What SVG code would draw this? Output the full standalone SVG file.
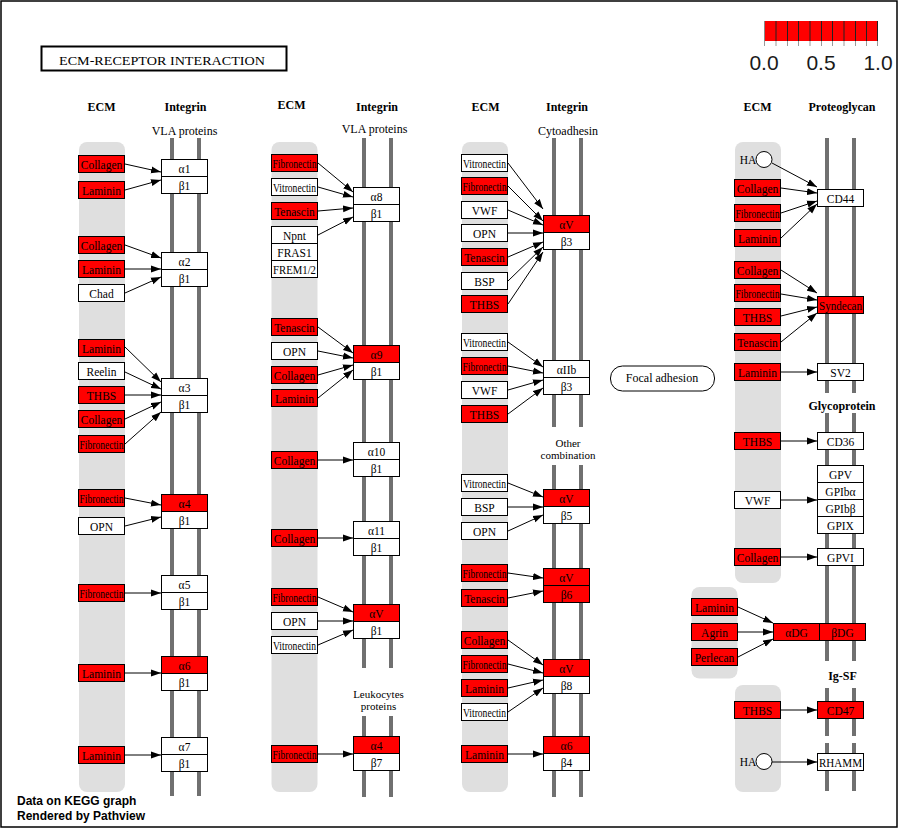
<svg xmlns="http://www.w3.org/2000/svg" width="900" height="829" viewBox="0 0 900 829">
<style>
.bg{fill:#dfdfdf}
.bar{stroke:#707070;stroke-width:4}
rect.r{fill:#ff0000;stroke:#000;stroke-width:1}
rect.w{fill:#fff;stroke:#000;stroke-width:1}
text{font-family:"Liberation Serif","Times New Roman",serif;fill:#000}
.t{font-size:11.5px;text-anchor:middle}
.h{font-size:12px;font-weight:bold;text-anchor:middle}
.s{font-size:12px;text-anchor:middle}
.s2{font-size:11px;text-anchor:middle}
#edges line{stroke:#000;stroke-width:1;marker-end:url(#a)}
.foot{font-family:"Liberation Sans",Arial,sans-serif;font-weight:bold;font-size:12px}
.leg{font-family:"Liberation Sans",Arial,sans-serif;font-size:21px;text-anchor:middle;fill:#1a1a1a}
</style>
<defs>
<marker id="a" markerWidth="10" markerHeight="8" refX="10" refY="4" orient="auto" markerUnits="userSpaceOnUse"><path d="M0,0.5 L10,4 L0,7.5 Z" fill="#000"/></marker>
</defs>
<rect x="0" y="0" width="900" height="829" fill="#fff"/>
<rect x="1" y="1" width="896" height="826" fill="none" stroke="#000" stroke-width="1.5"/>

<!-- title -->
<g id="title">
<rect x="41.5" y="46.5" width="245" height="24" fill="#fff" stroke="#000" stroke-width="2"/>
<text x="59" y="65" font-size="13" textLength="206" lengthAdjust="spacingAndGlyphs">ECM-RECEPTOR  INTERACTION</text>
</g>

<!-- legend -->
<g id="legend">
<rect x="764" y="21" width="114" height="20" fill="#ff0000"/>
<g stroke="#222" stroke-width="1">
<line x1="764.5" y1="21" x2="764.5" y2="41" stroke="#888"/><line x1="776" y1="21" x2="776" y2="41"/><line x1="787.5" y1="21" x2="787.5" y2="41"/><line x1="798.5" y1="21" x2="798.5" y2="41"/><line x1="810" y1="21" x2="810" y2="41"/><line x1="821.5" y1="21" x2="821.5" y2="41"/><line x1="832.5" y1="21" x2="832.5" y2="41"/><line x1="844" y1="21" x2="844" y2="41"/><line x1="855.5" y1="21" x2="855.5" y2="41"/><line x1="866.5" y1="21" x2="866.5" y2="41"/><line x1="877.5" y1="21" x2="877.5" y2="41"/>
</g>
<g stroke="#999" stroke-width="1">
<line x1="764.5" y1="41" x2="764.5" y2="46"/><line x1="776" y1="41" x2="776" y2="46"/><line x1="787.5" y1="41" x2="787.5" y2="46"/><line x1="798.5" y1="41" x2="798.5" y2="46"/><line x1="810" y1="41" x2="810" y2="46"/><line x1="821.5" y1="41" x2="821.5" y2="46"/><line x1="832.5" y1="41" x2="832.5" y2="46"/><line x1="844" y1="41" x2="844" y2="46"/><line x1="855.5" y1="41" x2="855.5" y2="46"/><line x1="866.5" y1="41" x2="866.5" y2="46"/><line x1="877.5" y1="41" x2="877.5" y2="46"/>
</g>
<text class="leg" x="764" y="70">0.0</text>
<text class="leg" x="821" y="70">0.5</text>
<text class="leg" x="878" y="70">1.0</text>
</g>

<!-- headers -->
<g id="headers">
<text class="h" x="101.5" y="111">ECM</text>
<text class="h" x="185.5" y="111">Integrin</text>
<text class="s" x="184.5" y="135">VLA proteins</text>
<text class="h" x="291.5" y="109">ECM</text>
<text class="h" x="377" y="111">Integrin</text>
<text class="s" x="374.5" y="133">VLA proteins</text>
<text class="h" x="485.5" y="110.5">ECM</text>
<text class="h" x="567" y="111">Integrin</text>
<text class="s" x="568" y="135">Cytoadhesin</text>
<text class="s2" x="568" y="447">Other</text>
<text class="s2" x="568" y="459">combination</text>
<text class="s2" x="378.5" y="698">Leukocytes</text>
<text class="s2" x="378.5" y="710">proteins</text>
<text class="h" x="757.5" y="111">ECM</text>
<text class="h" x="842" y="111">Proteoglycan</text>
<text class="h" x="842" y="410">Glycoprotein</text>
<text class="h" x="842.5" y="680">Ig-SF</text>
</g>

<!-- ECM backgrounds -->
<g id="ecm-bg">
<rect class="bg" x="79" y="142" width="46" height="650" rx="8"/>
<rect class="bg" x="271.5" y="142" width="46" height="650" rx="8"/>
<rect class="bg" x="462" y="142" width="46" height="650" rx="8"/>
<rect class="bg" x="735" y="142" width="46" height="441" rx="8"/>
<rect class="bg" x="691.5" y="587" width="46" height="91.5" rx="8"/>
<rect class="bg" x="735" y="685" width="46" height="107" rx="8"/>
</g>

<!-- membrane bars -->
<g id="bars" class="bar">
<line x1="172" y1="138" x2="172" y2="796"/><line x1="199" y1="138" x2="199" y2="796"/>
<line x1="364" y1="138" x2="364" y2="668"/><line x1="391" y1="138" x2="391" y2="668"/>
<line x1="364" y1="716" x2="364" y2="797"/><line x1="391" y1="716" x2="391" y2="797"/>
<line x1="554" y1="138" x2="554" y2="427"/><line x1="581" y1="138" x2="581" y2="427"/>
<line x1="554" y1="465" x2="554" y2="797"/><line x1="581" y1="465" x2="581" y2="797"/>
<line x1="827" y1="138" x2="827" y2="393"/><line x1="854" y1="138" x2="854" y2="393"/>
<line x1="827" y1="413" x2="827" y2="661"/><line x1="854" y1="413" x2="854" y2="661"/>
<line x1="827" y1="688" x2="827" y2="736"/><line x1="854" y1="688" x2="854" y2="736"/>
<line x1="827" y1="743" x2="827" y2="791"/><line x1="854" y1="743" x2="854" y2="791"/>
</g>

<!-- focal adhesion -->
<g id="focal-adhesion">
<rect x="610.5" y="366" width="104" height="25" rx="12" fill="#fff" stroke="#000"/>
<text class="s" x="662" y="382">Focal adhesion</text>
</g>

<!-- connectors -->
<g id="edges">
<line x1="125" y1="164" x2="161" y2="172"/>
<line x1="125" y1="190" x2="161" y2="180"/>
<line x1="125" y1="245" x2="161" y2="258"/>
<line x1="125" y1="269" x2="161" y2="269"/>
<line x1="125" y1="293" x2="161" y2="277"/>
<line x1="125" y1="347" x2="161" y2="382"/>
<line x1="125" y1="372" x2="161" y2="389"/>
<line x1="125" y1="395" x2="161" y2="395"/>
<line x1="125" y1="419" x2="161" y2="402"/>
<line x1="125" y1="444" x2="161" y2="412"/>
<line x1="125" y1="498" x2="161" y2="505"/>
<line x1="125" y1="526" x2="161" y2="517"/>
<line x1="125" y1="593" x2="161" y2="593"/>
<line x1="125" y1="673" x2="161" y2="673"/>
<line x1="125" y1="755" x2="161" y2="755"/>

<line x1="318" y1="163" x2="353" y2="192"/>
<line x1="318" y1="187" x2="353" y2="197"/>
<line x1="318" y1="211" x2="353" y2="208"/>
<line x1="318" y1="235" x2="353" y2="217"/>
<line x1="318" y1="327" x2="353" y2="353"/>
<line x1="318" y1="351" x2="353" y2="358"/>
<line x1="318" y1="375" x2="353" y2="365"/>
<line x1="318" y1="398" x2="353" y2="370"/>
<line x1="318" y1="460" x2="353" y2="460"/>
<line x1="318" y1="538" x2="353" y2="538"/>
<line x1="318" y1="597" x2="353" y2="612"/>
<line x1="318" y1="621" x2="353" y2="621"/>
<line x1="318" y1="645" x2="353" y2="630"/>
<line x1="318" y1="754" x2="353" y2="754"/>

<line x1="508" y1="163" x2="543" y2="209"/>
<line x1="508" y1="186" x2="543" y2="221"/>
<line x1="508" y1="210" x2="543" y2="225"/>
<line x1="508" y1="233" x2="543" y2="233"/>
<line x1="508" y1="257" x2="543" y2="242"/>
<line x1="508" y1="281" x2="543" y2="247"/>
<line x1="508" y1="304" x2="543" y2="252"/>
<line x1="508" y1="342" x2="543" y2="367"/>
<line x1="508" y1="366" x2="543" y2="373"/>
<line x1="508" y1="390" x2="543" y2="380"/>
<line x1="508" y1="414" x2="543" y2="388"/>
<line x1="508" y1="483" x2="543" y2="497"/>
<line x1="508" y1="507" x2="543" y2="507"/>
<line x1="508" y1="531" x2="543" y2="515"/>
<line x1="508" y1="573" x2="543" y2="578"/>
<line x1="508" y1="598" x2="543" y2="591"/>
<line x1="508" y1="640" x2="543" y2="665"/>
<line x1="508" y1="664" x2="543" y2="673"/>
<line x1="508" y1="688" x2="543" y2="680"/>
<line x1="508" y1="712" x2="543" y2="688"/>
<line x1="508" y1="754" x2="543" y2="754"/>

<line x1="772" y1="163" x2="817" y2="187"/>
<line x1="781" y1="188" x2="817" y2="193"/>
<line x1="781" y1="213" x2="817" y2="201"/>
<line x1="781" y1="238" x2="817" y2="204"/>
<line x1="781" y1="270" x2="817" y2="293"/>
<line x1="781" y1="294" x2="817" y2="300"/>
<line x1="781" y1="316" x2="817" y2="307"/>
<line x1="781" y1="342" x2="817" y2="313"/>
<line x1="781" y1="372" x2="817" y2="372"/>
<line x1="781" y1="441" x2="817" y2="441"/>
<line x1="781" y1="500" x2="817" y2="500"/>
<line x1="781" y1="557" x2="817" y2="557"/>
<line x1="738" y1="607" x2="773" y2="623"/>
<line x1="738" y1="632" x2="773" y2="632"/>
<line x1="738" y1="657" x2="773" y2="639"/>
<line x1="781" y1="710" x2="817" y2="710"/>
<line x1="772" y1="762" x2="817" y2="762"/>
</g>

<!-- column 1 ECM -->
<g id="c1-collagen-1"><rect class="r" x="78.5" y="155.5" width="46" height="17"/><text class="t" x="101.5" y="168.5">Collagen</text></g>
<g id="c1-laminin-1"><rect class="r" x="78.5" y="181.5" width="46" height="17"/><text class="t" x="101.5" y="194.5">Laminin</text></g>
<g id="c1-collagen-2"><rect class="r" x="78.5" y="236.5" width="46" height="17"/><text class="t" x="101.5" y="249.5">Collagen</text></g>
<g id="c1-laminin-2"><rect class="r" x="78.5" y="260.5" width="46" height="17"/><text class="t" x="101.5" y="273.5">Laminin</text></g>
<g id="c1-chad"><rect class="w" x="78.5" y="284.5" width="46" height="17"/><text class="t" x="101.5" y="297.5">Chad</text></g>
<g id="c1-laminin-3"><rect class="r" x="78.5" y="339.5" width="46" height="17"/><text class="t" x="101.5" y="352.5">Laminin</text></g>
<g id="c1-reelin"><rect class="w" x="78.5" y="362.5" width="46" height="17"/><text class="t" x="101.5" y="375.5">Reelin</text></g>
<g id="c1-thbs"><rect class="r" x="78.5" y="386.5" width="46" height="17"/><text class="t" x="101.5" y="399.5">THBS</text></g>
<g id="c1-collagen-3"><rect class="r" x="78.5" y="410.5" width="46" height="17"/><text class="t" x="101.5" y="423.5">Collagen</text></g>
<g id="c1-fibronectin-1"><rect class="r" x="78.5" y="435.5" width="46" height="17"/><text class="t" x="101.5" y="448.5" textLength="44" lengthAdjust="spacingAndGlyphs">Fibronectin</text></g>
<g id="c1-fibronectin-2"><rect class="r" x="78.5" y="489.5" width="46" height="17"/><text class="t" x="101.5" y="502.5" textLength="44" lengthAdjust="spacingAndGlyphs">Fibronectin</text></g>
<g id="c1-opn"><rect class="w" x="78.5" y="517.5" width="46" height="17"/><text class="t" x="101.5" y="530.5">OPN</text></g>
<g id="c1-fibronectin-3"><rect class="r" x="78.5" y="584.5" width="46" height="17"/><text class="t" x="101.5" y="597.5" textLength="44" lengthAdjust="spacingAndGlyphs">Fibronectin</text></g>
<g id="c1-laminin-4"><rect class="r" x="78.5" y="664.5" width="46" height="17"/><text class="t" x="101.5" y="677.5">Laminin</text></g>
<g id="c1-laminin-5"><rect class="r" x="78.5" y="746.5" width="46" height="17"/><text class="t" x="101.5" y="759.5">Laminin</text></g>

<!-- column 1 integrins -->
<g id="a1b1"><rect class="w" x="161.5" y="159.5" width="46" height="17"/><rect class="w" x="161.5" y="176.5" width="46" height="17"/><text class="t" x="184.5" y="172.5">α1</text><text class="t" x="184.5" y="189.5">β1</text></g>
<g id="a2b1"><rect class="w" x="161.5" y="252.5" width="46" height="17"/><rect class="w" x="161.5" y="269.5" width="46" height="17"/><text class="t" x="184.5" y="265.5">α2</text><text class="t" x="184.5" y="282.5">β1</text></g>
<g id="a3b1"><rect class="w" x="161.5" y="378.5" width="46" height="17"/><rect class="w" x="161.5" y="395.5" width="46" height="17"/><text class="t" x="184.5" y="391.5">α3</text><text class="t" x="184.5" y="408.5">β1</text></g>
<g id="a4b1"><rect class="r" x="161.5" y="494.5" width="46" height="17"/><rect class="w" x="161.5" y="511.5" width="46" height="17"/><text class="t" x="184.5" y="507.5">α4</text><text class="t" x="184.5" y="524.5">β1</text></g>
<g id="a5b1"><rect class="w" x="161.5" y="575.5" width="46" height="17"/><rect class="w" x="161.5" y="592.5" width="46" height="17"/><text class="t" x="184.5" y="588.5">α5</text><text class="t" x="184.5" y="605.5">β1</text></g>
<g id="a6b1"><rect class="r" x="161.5" y="656.5" width="46" height="17"/><rect class="w" x="161.5" y="673.5" width="46" height="17"/><text class="t" x="184.5" y="669.5">α6</text><text class="t" x="184.5" y="686.5">β1</text></g>
<g id="a7b1"><rect class="w" x="161.5" y="737.5" width="46" height="17"/><rect class="w" x="161.5" y="754.5" width="46" height="17"/><text class="t" x="184.5" y="750.5">α7</text><text class="t" x="184.5" y="767.5">β1</text></g>

<!-- column 2 ECM -->
<g id="c2-fibronectin-1"><rect class="r" x="271.5" y="154.5" width="46" height="17"/><text class="t" x="294.5" y="167.5" textLength="44" lengthAdjust="spacingAndGlyphs">Fibronectin</text></g>
<g id="c2-vitronectin-1"><rect class="w" x="271.5" y="178.5" width="46" height="17"/><text class="t" x="294.5" y="191.5" textLength="43" lengthAdjust="spacingAndGlyphs">Vitronectin</text></g>
<g id="c2-tenascin-1"><rect class="r" x="271.5" y="202.5" width="46" height="17"/><text class="t" x="294.5" y="215.5">Tenascin</text></g>
<g id="c2-npnt"><rect class="w" x="271.5" y="226.5" width="46" height="17"/><rect class="w" x="271.5" y="243.5" width="46" height="17"/><rect class="w" x="271.5" y="260.5" width="46" height="17"/><text class="t" x="294.5" y="239.5">Npnt</text><text class="t" x="294.5" y="256.5">FRAS1</text><text class="t" x="294.5" y="273.5" textLength="43" lengthAdjust="spacingAndGlyphs">FREM1/2</text></g>
<g id="c2-tenascin-2"><rect class="r" x="271.5" y="318.5" width="46" height="17"/><text class="t" x="294.5" y="331.5">Tenascin</text></g>
<g id="c2-opn-1"><rect class="w" x="271.5" y="342.5" width="46" height="17"/><text class="t" x="294.5" y="355.5">OPN</text></g>
<g id="c2-collagen-1"><rect class="r" x="271.5" y="366.5" width="46" height="17"/><text class="t" x="294.5" y="379.5">Collagen</text></g>
<g id="c2-laminin-1"><rect class="r" x="271.5" y="389.5" width="46" height="17"/><text class="t" x="294.5" y="402.5">Laminin</text></g>
<g id="c2-collagen-2"><rect class="r" x="271.5" y="451.5" width="46" height="17"/><text class="t" x="294.5" y="464.5">Collagen</text></g>
<g id="c2-collagen-3"><rect class="r" x="271.5" y="529.5" width="46" height="17"/><text class="t" x="294.5" y="542.5">Collagen</text></g>
<g id="c2-fibronectin-2"><rect class="r" x="271.5" y="588.5" width="46" height="17"/><text class="t" x="294.5" y="601.5" textLength="44" lengthAdjust="spacingAndGlyphs">Fibronectin</text></g>
<g id="c2-opn-2"><rect class="w" x="271.5" y="612.5" width="46" height="17"/><text class="t" x="294.5" y="625.5">OPN</text></g>
<g id="c2-vitronectin-2"><rect class="w" x="271.5" y="636.5" width="46" height="17"/><text class="t" x="294.5" y="649.5" textLength="43" lengthAdjust="spacingAndGlyphs">Vitronectin</text></g>
<g id="c2-fibronectin-3"><rect class="r" x="271.5" y="745.5" width="46" height="17"/><text class="t" x="294.5" y="758.5" textLength="44" lengthAdjust="spacingAndGlyphs">Fibronectin</text></g>

<!-- column 2 integrins -->
<g id="a8b1"><rect class="w" x="353.5" y="187.5" width="46" height="17"/><rect class="w" x="353.5" y="204.5" width="46" height="17"/><text class="t" x="376.5" y="200.5">α8</text><text class="t" x="376.5" y="217.5">β1</text></g>
<g id="a9b1"><rect class="r" x="353.5" y="345.5" width="46" height="17"/><rect class="w" x="353.5" y="362.5" width="46" height="17"/><text class="t" x="376.5" y="358.5">α9</text><text class="t" x="376.5" y="375.5">β1</text></g>
<g id="a10b1"><rect class="w" x="353.5" y="442.5" width="46" height="17"/><rect class="w" x="353.5" y="459.5" width="46" height="17"/><text class="t" x="376.5" y="455.5">α10</text><text class="t" x="376.5" y="472.5">β1</text></g>
<g id="a11b1"><rect class="w" x="353.5" y="521.5" width="46" height="17"/><rect class="w" x="353.5" y="538.5" width="46" height="17"/><text class="t" x="376.5" y="534.5">α11</text><text class="t" x="376.5" y="551.5">β1</text></g>
<g id="aVb1"><rect class="r" x="353.5" y="604.5" width="46" height="17"/><rect class="w" x="353.5" y="621.5" width="46" height="17"/><text class="t" x="376.5" y="617.5">αV</text><text class="t" x="376.5" y="634.5">β1</text></g>
<g id="a4b7"><rect class="r" x="353.5" y="736.5" width="46" height="17"/><rect class="w" x="353.5" y="753.5" width="46" height="17"/><text class="t" x="376.5" y="749.5">α4</text><text class="t" x="376.5" y="766.5">β7</text></g>

<!-- column 3 ECM -->
<g id="c3-vitronectin-1"><rect class="w" x="461.5" y="154.5" width="46" height="17"/><text class="t" x="484.5" y="167.5" textLength="43" lengthAdjust="spacingAndGlyphs">Vitronectin</text></g>
<g id="c3-fibronectin-1"><rect class="r" x="461.5" y="177.5" width="46" height="17"/><text class="t" x="484.5" y="190.5" textLength="44" lengthAdjust="spacingAndGlyphs">Fibronectin</text></g>
<g id="c3-vwf-1"><rect class="w" x="461.5" y="201.5" width="46" height="17"/><text class="t" x="484.5" y="214.5">VWF</text></g>
<g id="c3-opn-1"><rect class="w" x="461.5" y="224.5" width="46" height="17"/><text class="t" x="484.5" y="237.5">OPN</text></g>
<g id="c3-tenascin-1"><rect class="r" x="461.5" y="248.5" width="46" height="17"/><text class="t" x="484.5" y="261.5">Tenascin</text></g>
<g id="c3-bsp-1"><rect class="w" x="461.5" y="272.5" width="46" height="17"/><text class="t" x="484.5" y="285.5">BSP</text></g>
<g id="c3-thbs-1"><rect class="r" x="461.5" y="295.5" width="46" height="17"/><text class="t" x="484.5" y="308.5">THBS</text></g>
<g id="c3-vitronectin-2"><rect class="w" x="461.5" y="333.5" width="46" height="17"/><text class="t" x="484.5" y="346.5" textLength="43" lengthAdjust="spacingAndGlyphs">Vitronectin</text></g>
<g id="c3-fibronectin-2"><rect class="r" x="461.5" y="357.5" width="46" height="17"/><text class="t" x="484.5" y="370.5" textLength="44" lengthAdjust="spacingAndGlyphs">Fibronectin</text></g>
<g id="c3-vwf-2"><rect class="w" x="461.5" y="381.5" width="46" height="17"/><text class="t" x="484.5" y="394.5">VWF</text></g>
<g id="c3-thbs-2"><rect class="r" x="461.5" y="405.5" width="46" height="17"/><text class="t" x="484.5" y="418.5">THBS</text></g>
<g id="c3-vitronectin-3"><rect class="w" x="461.5" y="474.5" width="46" height="17"/><text class="t" x="484.5" y="487.5" textLength="43" lengthAdjust="spacingAndGlyphs">Vitronectin</text></g>
<g id="c3-bsp-2"><rect class="w" x="461.5" y="498.5" width="46" height="17"/><text class="t" x="484.5" y="511.5">BSP</text></g>
<g id="c3-opn-2"><rect class="w" x="461.5" y="522.5" width="46" height="17"/><text class="t" x="484.5" y="535.5">OPN</text></g>
<g id="c3-fibronectin-3"><rect class="r" x="461.5" y="564.5" width="46" height="17"/><text class="t" x="484.5" y="577.5" textLength="44" lengthAdjust="spacingAndGlyphs">Fibronectin</text></g>
<g id="c3-tenascin-2"><rect class="r" x="461.5" y="589.5" width="46" height="17"/><text class="t" x="484.5" y="602.5">Tenascin</text></g>
<g id="c3-collagen-1"><rect class="r" x="461.5" y="631.5" width="46" height="17"/><text class="t" x="484.5" y="644.5">Collagen</text></g>
<g id="c3-fibronectin-4"><rect class="r" x="461.5" y="655.5" width="46" height="17"/><text class="t" x="484.5" y="668.5" textLength="44" lengthAdjust="spacingAndGlyphs">Fibronectin</text></g>
<g id="c3-laminin-1"><rect class="r" x="461.5" y="679.5" width="46" height="17"/><text class="t" x="484.5" y="692.5">Laminin</text></g>
<g id="c3-vitronectin-4"><rect class="w" x="461.5" y="703.5" width="46" height="17"/><text class="t" x="484.5" y="716.5" textLength="43" lengthAdjust="spacingAndGlyphs">Vitronectin</text></g>
<g id="c3-laminin-2"><rect class="r" x="461.5" y="745.5" width="46" height="17"/><text class="t" x="484.5" y="758.5">Laminin</text></g>

<!-- column 3 integrins -->
<g id="aVb3"><rect class="r" x="543.5" y="215.5" width="46" height="17"/><rect class="w" x="543.5" y="232.5" width="46" height="17"/><text class="t" x="566.5" y="228.5">αV</text><text class="t" x="566.5" y="245.5">β3</text></g>
<g id="aIIbb3"><rect class="w" x="543.5" y="360.5" width="46" height="17"/><rect class="w" x="543.5" y="377.5" width="46" height="17"/><text class="t" x="566.5" y="373.5">αIIb</text><text class="t" x="566.5" y="390.5">β3</text></g>
<g id="aVb5"><rect class="r" x="543.5" y="489.5" width="46" height="17"/><rect class="w" x="543.5" y="506.5" width="46" height="17"/><text class="t" x="566.5" y="502.5">αV</text><text class="t" x="566.5" y="519.5">β5</text></g>
<g id="aVb6"><rect class="r" x="543.5" y="568.5" width="46" height="17"/><rect class="r" x="543.5" y="585.5" width="46" height="17"/><text class="t" x="566.5" y="581.5">αV</text><text class="t" x="566.5" y="598.5">β6</text></g>
<g id="aVb8"><rect class="r" x="543.5" y="659.5" width="46" height="17"/><rect class="w" x="543.5" y="676.5" width="46" height="17"/><text class="t" x="566.5" y="672.5">αV</text><text class="t" x="566.5" y="689.5">β8</text></g>
<g id="a6b4"><rect class="r" x="543.5" y="736.5" width="46" height="17"/><rect class="w" x="543.5" y="753.5" width="46" height="17"/><text class="t" x="566.5" y="749.5">α6</text><text class="t" x="566.5" y="766.5">β4</text></g>

<!-- column 4 ECM -->
<g id="c4-ha-1"><text class="t" x="748" y="164">HA</text><circle cx="764" cy="159.5" r="8" fill="#fff" stroke="#000"/></g>
<g id="c4-collagen-1"><rect class="r" x="734.5" y="179.5" width="46" height="17"/><text class="t" x="757.5" y="192.5">Collagen</text></g>
<g id="c4-fibronectin-1"><rect class="r" x="734.5" y="204.5" width="46" height="17"/><text class="t" x="757.5" y="217.5" textLength="44" lengthAdjust="spacingAndGlyphs">Fibronectin</text></g>
<g id="c4-laminin-1"><rect class="r" x="734.5" y="229.5" width="46" height="17"/><text class="t" x="757.5" y="242.5">Laminin</text></g>
<g id="c4-collagen-2"><rect class="r" x="734.5" y="261.5" width="46" height="17"/><text class="t" x="757.5" y="274.5">Collagen</text></g>
<g id="c4-fibronectin-2"><rect class="r" x="734.5" y="284.5" width="46" height="17"/><text class="t" x="757.5" y="297.5" textLength="44" lengthAdjust="spacingAndGlyphs">Fibronectin</text></g>
<g id="c4-thbs-1"><rect class="r" x="734.5" y="308.5" width="46" height="17"/><text class="t" x="757.5" y="321.5">THBS</text></g>
<g id="c4-tenascin-1"><rect class="r" x="734.5" y="333.5" width="46" height="17"/><text class="t" x="757.5" y="346.5">Tenascin</text></g>
<g id="c4-laminin-2"><rect class="r" x="734.5" y="363.5" width="46" height="17"/><text class="t" x="757.5" y="376.5">Laminin</text></g>
<g id="c4-thbs-2"><rect class="r" x="734.5" y="432.5" width="46" height="17"/><text class="t" x="757.5" y="445.5">THBS</text></g>
<g id="c4-vwf"><rect class="w" x="734.5" y="491.5" width="46" height="17"/><text class="t" x="757.5" y="504.5">VWF</text></g>
<g id="c4-collagen-3"><rect class="r" x="734.5" y="548.5" width="46" height="17"/><text class="t" x="757.5" y="561.5">Collagen</text></g>
<g id="c4-laminin-3"><rect class="r" x="691.5" y="598.5" width="46" height="17"/><text class="t" x="714.5" y="611.5">Laminin</text></g>
<g id="c4-agrin"><rect class="r" x="691.5" y="623.5" width="46" height="17"/><text class="t" x="714.5" y="636.5">Agrin</text></g>
<g id="c4-perlecan"><rect class="r" x="691.5" y="648.5" width="46" height="17"/><text class="t" x="714.5" y="661.5">Perlecan</text></g>
<g id="c4-thbs-3"><rect class="r" x="734.5" y="701.5" width="46" height="17"/><text class="t" x="757.5" y="714.5">THBS</text></g>
<g id="c4-ha-2"><text class="t" x="748" y="766">HA</text><circle cx="764" cy="761.5" r="8" fill="#fff" stroke="#000"/></g>

<!-- column 4 receptors -->
<g id="cd44"><rect class="w" x="817.5" y="189.5" width="46" height="17"/><text class="t" x="840.5" y="202.5">CD44</text></g>
<g id="syndecan"><rect class="r" x="817.5" y="296.5" width="46" height="17"/><text class="t" x="840.5" y="309.5" textLength="43" lengthAdjust="spacingAndGlyphs">Syndecan</text></g>
<g id="sv2"><rect class="w" x="817.5" y="363.5" width="46" height="17"/><text class="t" x="840.5" y="376.5">SV2</text></g>
<g id="cd36"><rect class="w" x="817.5" y="432.5" width="46" height="17"/><text class="t" x="840.5" y="445.5">CD36</text></g>
<g id="gpib-ix-v"><rect class="w" x="817.5" y="465.5" width="46" height="17"/><rect class="w" x="817.5" y="482.5" width="46" height="17"/><rect class="w" x="817.5" y="499.5" width="46" height="17"/><rect class="w" x="817.5" y="516.5" width="46" height="17"/><text class="t" x="840.5" y="478.5">GPV</text><text class="t" x="840.5" y="495.5">GPIbα</text><text class="t" x="840.5" y="512.5">GPIbβ</text><text class="t" x="840.5" y="529.5">GPIX</text></g>
<g id="gpvi"><rect class="w" x="817.5" y="548.5" width="46" height="17"/><text class="t" x="840.5" y="561.5">GPVI</text></g>
<g id="dg"><rect class="r" x="773.5" y="623.5" width="46" height="17"/><rect class="r" x="819.5" y="623.5" width="46" height="17"/><text class="t" x="796.5" y="636.5">αDG</text><text class="t" x="842.5" y="636.5">βDG</text></g>
<g id="cd47"><rect class="r" x="817.5" y="701.5" width="46" height="17"/><text class="t" x="840.5" y="714.5">CD47</text></g>
<g id="rhamm"><rect class="w" x="817.5" y="753.5" width="46" height="17"/><text class="t" x="840.5" y="766.5" textLength="43" lengthAdjust="spacingAndGlyphs">RHAMM</text></g>

<!-- footer -->
<g id="footer">
<text class="foot" x="17" y="805">Data on KEGG graph</text>
<text class="foot" x="17" y="820">Rendered by Pathview</text>
</g>
</svg>
